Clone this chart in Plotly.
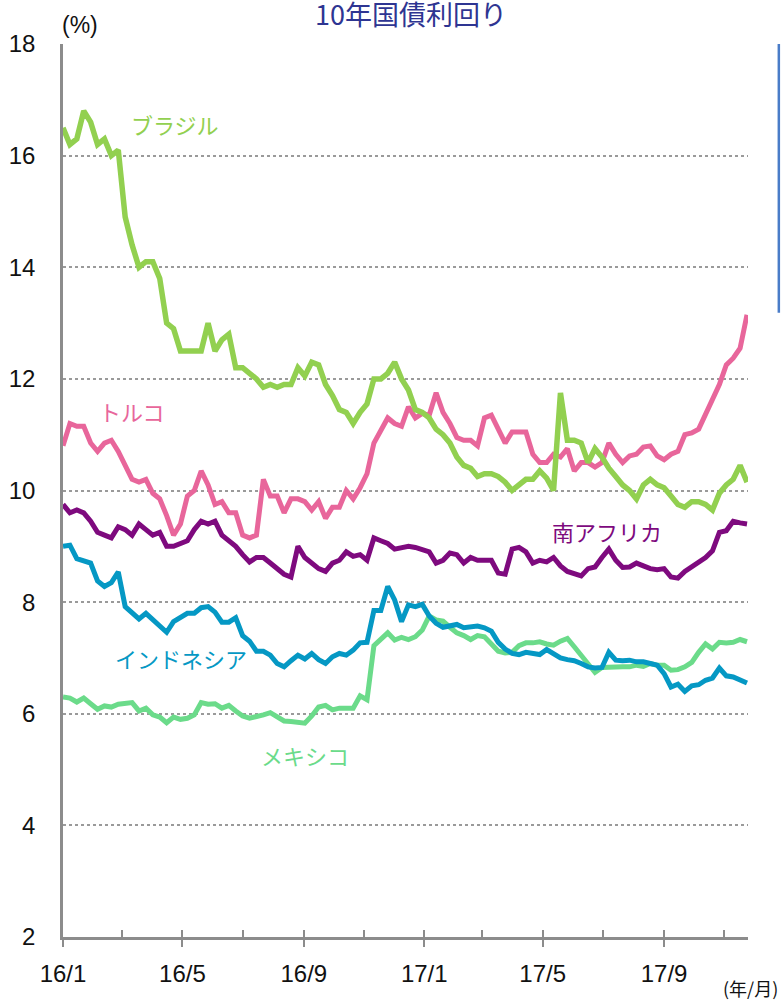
import pandas as pd
import plotly.graph_objects as go

# Weekly observations (Fridays), Jan 2016 - Nov 2017
dates = pd.date_range("2016-01-01", periods=100, freq="7D")

brazil = [
    16.5, 16.2, 16.3, 16.8, 16.6, 16.2, 16.3, 16.0, 16.1, 14.9,
    14.4, 14.0, 14.1, 14.1, 13.8, 13.0, 12.9, 12.5, 12.5, 12.5,
    12.5, 13.0, 12.5, 12.7, 12.8, 12.2, 12.2, 12.1, 12.0, 11.85,
    11.9, 11.85, 11.9, 11.9, 12.2, 12.05, 12.3, 12.25, 11.9, 11.7,
    11.45, 11.4, 11.2, 11.4, 11.55, 12.0, 12.0, 12.1, 12.3, 12.0,
    11.8, 11.45, 11.4, 11.3, 11.1, 11.0, 10.85, 10.6, 10.45, 10.4,
    10.25, 10.3, 10.3, 10.25, 10.15, 10.0, 10.1, 10.2, 10.2, 10.35,
    10.22, 10.0, 11.75, 10.9, 10.9, 10.85, 10.5, 10.75, 10.6, 10.4,
    10.25, 10.1, 10.0, 9.85, 10.1, 10.2, 10.1, 10.05, 9.9, 9.75,
    9.7, 9.8, 9.8, 9.75, 9.65, 9.95, 10.1, 10.2, 10.45, 10.15,
]

turkey = [
    10.8, 11.2, 11.15, 11.15, 10.85, 10.7, 10.85, 10.9, 10.7, 10.45,
    10.2, 10.15, 10.2, 9.95, 9.85, 9.55, 9.2, 9.4, 9.9, 10.0,
    10.35, 10.1, 9.75, 9.8, 9.6, 9.6, 9.2, 9.15, 9.2, 10.2,
    9.9, 9.9, 9.6, 9.85, 9.85, 9.8, 9.65, 9.8, 9.5, 9.7,
    9.7, 10.0, 9.85, 10.05, 10.3, 10.85, 11.1, 11.3, 11.2, 11.15,
    11.5, 11.3, 11.38, 11.35, 11.75, 11.4, 11.2, 10.95, 10.9, 10.9,
    10.8, 11.3, 11.35, 11.1, 10.85, 11.05, 11.05, 11.05, 10.65, 10.5,
    10.5, 10.65, 10.6, 10.75, 10.35, 10.5, 10.5, 10.42, 10.5, 10.85,
    10.65, 10.5, 10.62, 10.65, 10.78, 10.8, 10.62, 10.55, 10.65, 10.7,
    11.0, 11.03, 11.1, 11.35, 11.6, 11.9, 12.25, 12.37, 12.55, 13.15,
]

south_africa = [
    9.75, 9.6, 9.65, 9.6, 9.45, 9.25, 9.2, 9.15, 9.35, 9.3,
    9.2, 9.4, 9.3, 9.2, 9.25, 9.0, 9.0, 9.05, 9.1, 9.3,
    9.45, 9.4, 9.45, 9.2, 9.1, 9.0, 8.85, 8.72, 8.8, 8.8,
    8.7, 8.6, 8.5, 8.45, 9.0, 8.8, 8.7, 8.6, 8.55, 8.7,
    8.75, 8.9, 8.82, 8.85, 8.75, 9.15, 9.1, 9.05, 8.95, 8.98,
    9.0, 8.98, 8.95, 8.9, 8.7, 8.75, 8.88, 8.85, 8.7, 8.8,
    8.75, 8.75, 8.75, 8.52, 8.5, 8.95, 8.98, 8.9, 8.7, 8.75,
    8.72, 8.8, 8.65, 8.55, 8.5, 8.47, 8.6, 8.63, 8.8, 8.95,
    8.75, 8.62, 8.63, 8.7, 8.65, 8.6, 8.58, 8.6, 8.45, 8.43,
    8.55, 8.63, 8.7, 8.8, 8.92, 9.25, 9.28, 9.45, 9.42, 9.4,
]

indonesia = [
    9.0, 9.02, 8.78, 8.75, 8.7, 8.38, 8.28, 8.35, 8.54, 7.92,
    7.8, 7.7, 7.8, 7.68, 7.55, 7.46, 7.65, 7.73, 7.8, 7.8,
    7.9, 7.92, 7.82, 7.64, 7.64, 7.72, 7.4, 7.3, 7.12, 7.12,
    7.05, 6.9, 6.84, 6.95, 7.05, 6.98, 7.08, 6.97, 6.9, 7.02,
    7.08, 7.05, 7.14, 7.27, 7.28, 7.85, 7.85, 8.28, 8.04, 7.65,
    7.95, 7.92, 7.96, 7.75, 7.62, 7.55, 7.58, 7.6, 7.54, 7.55,
    7.57, 7.54, 7.48, 7.28, 7.16, 7.08, 7.06, 7.1, 7.09, 7.06,
    7.15, 7.08, 7.0, 6.97, 6.95, 6.9, 6.84, 6.82, 6.83, 7.1,
    6.96, 6.95, 6.96, 6.93, 6.93, 6.9, 6.87, 6.72, 6.48, 6.53,
    6.4, 6.5, 6.52, 6.6, 6.64, 6.82, 6.68, 6.66, 6.6, 6.55,
]

mexico = [
    6.3, 6.28, 6.21, 6.28, 6.18, 6.08, 6.14, 6.12, 6.17, 6.18,
    6.2, 6.05, 6.1, 5.98, 5.94, 5.84, 5.94, 5.9, 5.92, 5.98,
    6.2, 6.17, 6.18, 6.1, 6.15, 6.05, 5.96, 5.92, 5.94, 5.98,
    6.02, 5.95, 5.87, 5.86, 5.85, 5.83, 5.96, 6.12, 6.15, 6.07,
    6.1, 6.1, 6.1, 6.32, 6.25, 7.22, 7.35, 7.45, 7.32, 7.37,
    7.33, 7.38, 7.5, 7.75, 7.68, 7.66, 7.55, 7.45, 7.4, 7.33,
    7.4, 7.38, 7.25, 7.12, 7.09, 7.1, 7.22, 7.27, 7.27, 7.29,
    7.25, 7.23, 7.3, 7.35, 7.2, 7.05, 6.88, 6.74, 6.83, 6.84,
    6.84, 6.84, 6.84, 6.87, 6.85, 6.9, 6.87, 6.87, 6.78, 6.79,
    6.84, 6.92, 7.1, 7.25, 7.16, 7.28, 7.27, 7.28, 7.33, 7.29,
]

# Axis ticks
y_ticks = [2, 4, 6, 8, 10, 12, 14, 16, 18]
x_tick_dates = ["2016-01-01", "2016-05-01", "2016-09-01",
                "2017-01-01", "2017-05-01", "2017-09-01"]
x_tick_labels = ["16/1", "16/5", "16/9", "17/1", "17/5", "17/9"]

# name, values, colour, width, label position (date, value)
series = [
    ("南アフリカ", south_africa, "#7E0A7E", 5, "2017-07-05", 9.27),
    ("メキシコ", mexico, "#6BDB8A", 5, "2016-09-02", 5.26),
    ("インドネシア", indonesia, "#0598C4", 5, "2016-04-30", 7.0),
    ("トルコ", turkey, "#E8669B", 5, "2016-03-11", 11.42),
    ("ブラジル", brazil, "#92D050", 5.5, "2016-04-23", 16.57),
]

JP_FONT = "Noto Sans CJK JP"
NUM_FONT = "Liberation Sans, Arial, sans-serif"

fig = go.Figure()
for name, vals, color, width, _, _ in series:
    fig.add_trace(go.Scatter(
        x=dates, y=vals, mode="lines", name=name,
        line=dict(color=color, width=width),
        showlegend=False, hoverinfo="skip",
    ))

# invisible trace on the secondary x-axis, carrying the inward 2-month ticks
fig.add_trace(go.Scatter(x=[dates[0]], y=[None], xaxis="x2",
                         showlegend=False, hoverinfo="skip"))

annotations = []
for name, vals, color, width, lx, ly in series:
    annotations.append(dict(
        x=lx, y=ly, xref="x", yref="y", text=name, showarrow=False,
        font=dict(family=JP_FONT, size=22, color=color),
        xanchor="center", yanchor="middle",
    ))

annotations += [
    dict(x=0.508, y=1.034, xref="paper", yref="paper", text="10年国債利回り",
         showarrow=False, font=dict(family=JP_FONT, size=27, color="#2E3592"),
         xanchor="center", yanchor="middle"),
    dict(x=0.025, y=1.021, xref="paper", yref="paper", text="(%)",
         showarrow=False, font=dict(family=NUM_FONT, size=23, color="#111111"),
         xanchor="center", yanchor="middle"),
    dict(x=1.004, y=-0.0571, xref="paper", yref="paper", text="(年/月)",
         showarrow=False, font=dict(family=JP_FONT, size=18, color="#111111"),
         xanchor="center", yanchor="middle"),
]

x_range = ["2016-01-01", "2017-11-25"]

fig.update_layout(
    width=781, height=1001,
    margin=dict(l=63, r=33, t=44, b=64, autoexpand=False),
    paper_bgcolor="white", plot_bgcolor="white",
    showlegend=False,
    annotations=annotations,
    xaxis=dict(
        range=x_range, tickvals=x_tick_dates, ticktext=x_tick_labels,
        ticks="outside", ticklen=7, tickwidth=2, tickcolor="#8C8C8C",
        showline=True, linecolor="#8C8C8C", linewidth=2.5,
        showgrid=False, zeroline=False, automargin=False,
        tickfont=dict(family=NUM_FONT, size=24, color="#111111"),
        ticklabelstandoff=6,
    ),
    xaxis2=dict(
        range=x_range, overlaying="x", side="bottom",
        dtick="M2", tick0="2016-01-01",
        ticks="inside", ticklen=7, tickwidth=2, tickcolor="#8C8C8C",
        showticklabels=False, showline=False, showgrid=False, zeroline=False,
        automargin=False,
    ),
    yaxis=dict(
        range=[2, 18], tickvals=y_ticks,
        showline=True, linecolor="#8C8C8C", linewidth=2.5,
        showgrid=True, gridcolor="#9A9A9A", gridwidth=1.5, griddash="dot",
        zeroline=False, ticks="", automargin=False,
        tickfont=dict(family=NUM_FONT, size=24, color="#111111"),
        ticklabelstandoff=20,
    ),
    shapes=[
        # frame edge of the adjacent panel
        dict(type="line", xref="paper", yref="paper",
             x0=1.045, x1=1.045, y0=0.699, y1=1.0,
             line=dict(color="#4A7CC8", width=2.5)),
    ],
)

fig.write_html("out.html")
